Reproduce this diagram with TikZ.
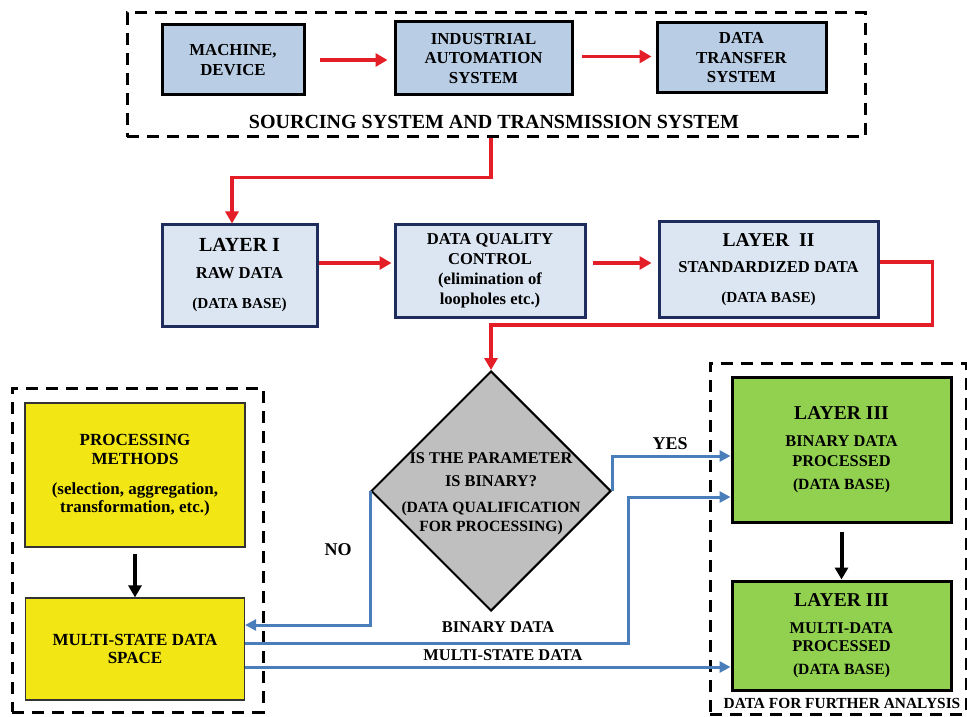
\documentclass[tikz,border=0pt]{standalone}
\usepackage{fontspec}
\setmainfont{Liberation Serif}
\usetikzlibrary{shapes.geometric,arrows.meta}

\definecolor{srcblue}{RGB}{185,205,229}
\definecolor{layblue}{RGB}{220,230,242}
\definecolor{laynavy}{RGB}{31,45,92}
\definecolor{procyellow}{RGB}{242,230,20}
\definecolor{outgreen}{RGB}{146,208,80}
\definecolor{qualgray}{RGB}{191,191,191}
\definecolor{flowred}{RGB}{228,30,38}
\definecolor{flowblue}{RGB}{74,126,187}

\tikzset{
  groupbox/.style={draw, line width=1.5pt, dash pattern=on 6pt off 4pt},
  srcbox/.style={draw, line width=1.5pt, fill=srcblue, align=center,
    font=\bfseries\fontsize{8.4}{9.75}\selectfont},
  laybox/.style={draw=laynavy, line width=1.5pt, fill=layblue, align=center,
    font=\bfseries\fontsize{8.3}{10}\selectfont},
  procbox/.style={draw=black!80, line width=0.6pt, fill=procyellow, align=center,
    font=\bfseries\fontsize{8.5}{9.5}\selectfont},
  outbox/.style={draw, line width=1.5pt, fill=outgreen, align=center,
    font=\bfseries\fontsize{8.2}{10}\selectfont},
  decision/.style={diamond, draw, line width=1pt, fill=qualgray,
    minimum width=120pt, minimum height=120pt, inner sep=0pt},
  flowlabel/.style={font=\bfseries\fontsize{8.2}{10}\selectfont, inner sep=1pt},
  redarrow/.style={draw=flowred, line width=1.6pt, -{Triangle[length=6pt,width=6.5pt]}},
  bluearrow/.style={draw=flowblue, line width=1.5pt, -{Triangle[length=5.5pt,width=5.5pt]}},
  blackarrow/.style={draw, line width=2pt, -{Triangle[length=6pt,width=6.5pt]}}
}

\begin{document}
\begin{tikzpicture}[x=0.5pt,y=-0.5pt]
\useasboundingbox (0,0) rectangle (967,716);

% sourcing system
\node[groupbox, minimum width=369pt, minimum height=62pt] (srcsys) at (496,75) {};
\node[srcbox, minimum width=71pt, minimum height=35pt] (mach) at (233,60) {MACHINE,\\DEVICE};
\node[srcbox, minimum width=88.5pt, minimum height=36.5pt] (indus) at (483.5,58.5) {INDUSTRIAL\\AUTOMATION\\SYSTEM};
\node[srcbox, minimum width=84.5pt, minimum height=35pt] (trans) at (741.5,58) {DATA\\TRANSFER\\SYSTEM};
\node[font=\bfseries\fontsize{10}{12}\selectfont] (srctitle) at (494,122) {SOURCING SYSTEM AND TRANSMISSION SYSTEM};
\draw[redarrow, shorten <=7pt, shorten >=3pt] (mach.east) -- (mach.east -| indus.west);
\draw[redarrow, shorten <=4pt, shorten >=2pt] ([yshift=1pt]indus.east) -- ([yshift=1pt]indus.east -| trans.west);

% layers I and II
\node[laybox, minimum width=77.5pt, minimum height=50.5pt] (layA) at (239.5,275.5)
  {{\fontsize{10}{12}\selectfont LAYER I}\\[3.5pt] RAW DATA\\[5pt] {\fontsize{7.6}{9}\selectfont (DATA BASE)}};
\node[laybox, minimum width=95pt, minimum height=46pt] (dqc) at (490,271)
  {DATA QUALITY\\CONTROL\\(elimination of\\loopholes etc.)};
\node[laybox, minimum width=109.5pt, minimum height=47.5pt] (layB) at (768.5,269.5)
  {{\fontsize{9.8}{12}\selectfont LAYER\ \ II}\\[3pt] STANDARDIZED DATA\\[5pt] {\fontsize{7.6}{9}\selectfont (DATA BASE)}};

% decision
\node[decision] (qual) at (491,491) {};
\node[font=\bfseries\fontsize{8.2}{9.5}\selectfont, align=center] (qualtext) at (491,494)
  {IS THE PARAMETER\\[2pt] IS BINARY?\\[3.5pt] {\fontsize{7.8}{9.5}\selectfont (DATA QUALIFICATION}\\ {\fontsize{7.8}{9.5}\selectfont FOR PROCESSING)}};

\draw[redarrow] (srcsys.south -| qual) -- ++(0,39) -| ([xshift=-3.75pt]layA.north);
\draw[redarrow, shorten >=1pt] ([yshift=6.25pt]layA.east) -- ([yshift=6.25pt]layA.east -| dqc.west);
\draw[redarrow, shorten <=3pt, shorten >=3pt] ([yshift=4pt]dqc.east) -- ([yshift=4pt]dqc.east -| layB.west);
\draw[redarrow] ([yshift=3.75pt]layB.east) -| ++(53,63) -| (qual.north);

% processing
\node[groupbox, minimum width=125.5pt, minimum height=162pt] (procgrp) at (137.5,550) {};
\node[procbox, minimum width=110pt, minimum height=72pt] (proc) at (135,475)
  {PROCESSING\\METHODS\\[5.5pt] (selection, aggregation,\\[-0.5pt] transformation, etc.)};
\node[procbox, minimum width=109.5pt, minimum height=51pt] (multi) at (135,649)
  {MULTI-STATE DATA\\[-0.5pt] SPACE};
\draw[blackarrow, shorten <=3pt] (proc.south) -- (multi.north);

% further analysis
\node[groupbox, minimum width=128pt, minimum height=175.5pt] (outgrp) at (838,538.5) {};
\node[outbox, minimum width=109.5pt, minimum height=72.5pt] (binIII) at (841.5,449.5)
  {{\fontsize{9.8}{12}\selectfont LAYER III}\\[3.5pt] BINARY DATA\\ PROCESSED\\[1.5pt] {\fontsize{7.8}{10}\selectfont (DATA BASE)}};
\node[outbox, minimum width=109.5pt, minimum height=54.5pt] (mulIII) at (841.5,635.5)
  {{\fontsize{9.8}{12}\selectfont LAYER III}\\[3.5pt] MULTI-DATA\\[-1pt] PROCESSED\\[1.5pt] {\fontsize{7.8}{10}\selectfont (DATA BASE)}};
\node[font=\bfseries\fontsize{7.7}{9}\selectfont] (further) at (842,703) {DATA FOR FURTHER ANALYSIS};
\draw[blackarrow, shorten <=4pt] (binIII) -- (mulIII);

% data flows
\draw[bluearrow] (qual.east) |- ([yshift=-3.25pt]binIII.west);
\draw[bluearrow] (qual.west) |- ([yshift=12pt]multi.east);
\draw[bluearrow] ([yshift=3pt]multi.east) -- ++(383,0) |- ([yshift=-23.75pt]binIII.west);
\draw[bluearrow] ([yshift=-9pt]multi.east) -- ([yshift=-9pt]multi.east -| mulIII.west);
\node[flowlabel, font=\bfseries\fontsize{9}{10}\selectfont] (yes) at (670,444) {YES};
\node[flowlabel, font=\bfseries\fontsize{9}{10}\selectfont] (no) at (338,550) {NO};
\node[flowlabel] (bindata) at (498,627) {BINARY DATA};
\node[flowlabel] (msdata) at (503,655) {MULTI-STATE DATA};
\end{tikzpicture}
\end{document}
